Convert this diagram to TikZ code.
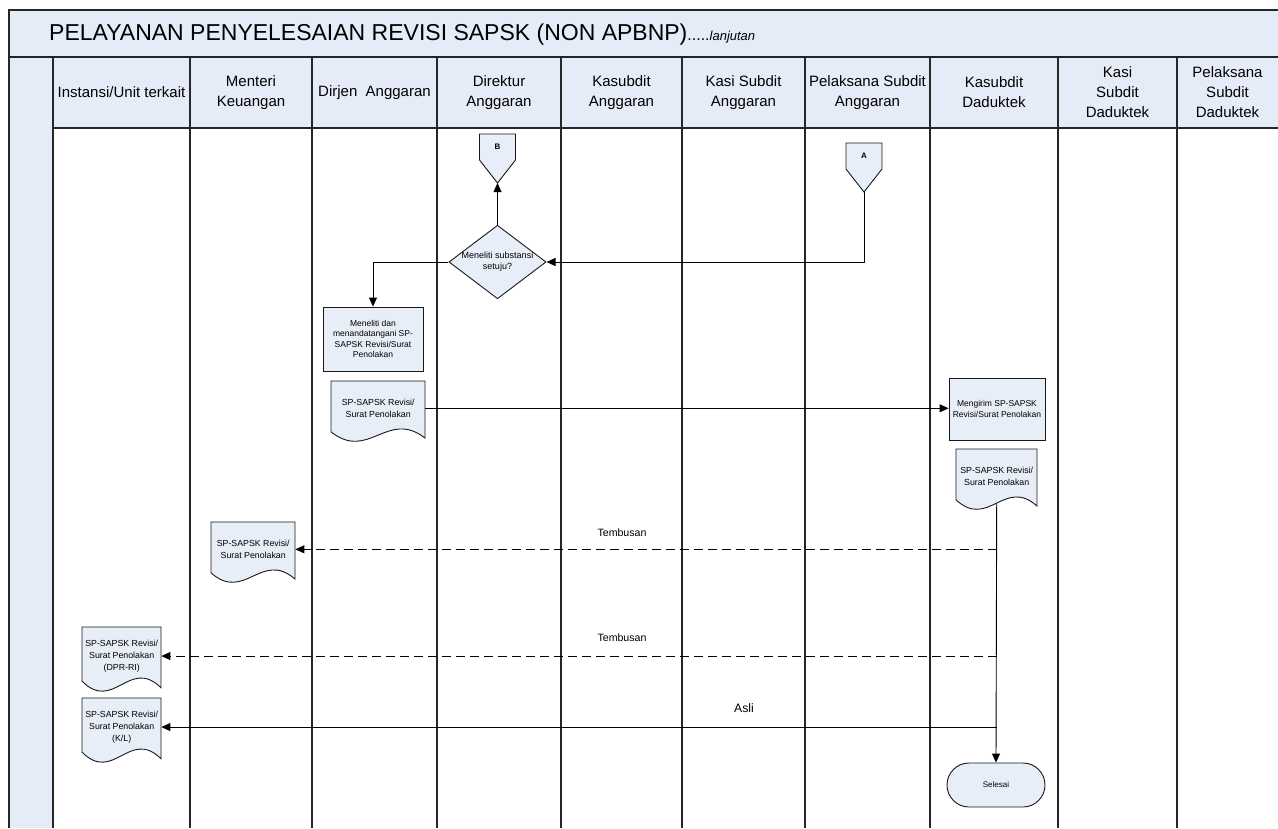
\documentclass[tikz,border=0pt]{standalone}
\usepackage{fontspec}
\setmainfont{Liberation Sans}
\usetikzlibrary{arrows.meta,shapes.geometric,backgrounds}

\definecolor{bandblue}{RGB}{230,236,247}
\definecolor{shapeblue}{RGB}{232,238,248}

\def\laneTop{57}
\def\headBottom{128}
\def\pageBottom{828}

\tikzset{
  frame/.style={line width=1.6pt, draw=black!85},
  lane/.style={line width=1.6pt, draw=black!85},
  shapeline/.style={draw=black!90, line width=0.9pt, fill=shapeblue},
  lanehead/.style={align=center, inner sep=0pt, font=\fontsize{15}{20}\selectfont},
  procbox/.style={shapeline, align=center, inner sep=1pt, font=\fontsize{8.5}{10.5}\selectfont},
  docbox/.style={anchor=north west, align=center, inner sep=0pt, font=\fontsize{8.8}{11.7}\selectfont},
  offbox/.style={minimum width=36pt, minimum height=26pt, inner sep=0pt, font=\fontsize{8}{10}\bfseries\selectfont},
  decision/.style={diamond, shapeline, aspect=1.32, inner sep=0pt, minimum width=90pt, minimum height=68pt, align=center, font=\fontsize{9}{11}\selectfont},
  terminal/.style={shapeline, rounded corners=22pt, minimum width=98pt, minimum height=44pt, font=\fontsize{8}{10}\selectfont},
  flow/.style={line width=0.9pt, -{Triangle[length=9pt,width=8pt]}},
  copyflow/.style={flow, dash pattern=on 9pt off 5pt},
  note/.style={inner sep=0pt, font=\fontsize{10.6}{12}\selectfont}
}

% document symbol: name, left, top, width, height, text
\newcommand{\docnode}[6]{%
  \begin{pgfonlayer}{background}
    \filldraw[shapeline] (#2,#3) -- (#2,{#3+0.82*#5})
      .. controls ({#2+0.4*#4},{#3+1.3*#5}) and ({#2+0.6*#4},{#3+0.45*#5}) .. ({#2+#4},{#3+0.92*#5})
      -- ({#2+#4},#3) -- cycle;
  \end{pgfonlayer}
  \node[docbox, minimum width=#4pt, minimum height={0.874*#5pt}] (#1) at (#2,#3) {#6};
}

% off-page connector: name, centre x, top, letter
\newcommand{\offpage}[4]{%
  \begin{pgfonlayer}{background}
    \filldraw[shapeline] ({#2-18},#3) -- ({#2+18},#3) -- ({#2+18},{#3+26})
      -- (#2,{#3+49}) -- ({#2-18},{#3+26}) -- cycle;
  \end{pgfonlayer}
  \node[offbox] (#1) at (#2,{#3+13}) {#4};
  \coordinate (#1 tip) at (#2,{#3+49});
}

\begin{document}
\begin{tikzpicture}[x=1pt, y=-1pt]
  \useasboundingbox (0,0) rectangle (1278,828);

  \fill[bandblue] (9,10) rectangle (1278,\laneTop);
  \fill[bandblue] (9,\laneTop) rectangle (53,\pageBottom);
  \fill[bandblue] (53,\laneTop) rectangle (1278,\headBottom);

  \foreach \x in {53,190,312,437,561,682,805,930,1058,1177} {
    \draw[lane] (\x,\laneTop) -- (\x,\pageBottom);
  }
  \draw[frame] (1278,10) -- (9,10) -- (9,\pageBottom);
  \draw[frame] (9,\laneTop) -- (1278,\laneTop);
  \draw[frame] (53,\headBottom) -- (1278,\headBottom);

  \node[anchor=base west, inner sep=0pt] (title) at (49,40)
    {{\fontsize{23}{23}\selectfont PELAYANAN PENYELESAIAN REVISI SAPSK (NON APBNP)}{\fontsize{16}{16}\selectfont .....}{\fontsize{13}{13}\selectfont\itshape lanjutan}};

  \foreach \xa/\xb/\lbl [count=\i] in {53/190/{Instansi/Unit terkait}, 190/312/{Menteri\\Keuangan},
      312/437/{Dirjen\ \ Anggaran}, 437/561/{Direktur\\Anggaran}, 561/682/{Kasubdit\\Anggaran},
      682/805/{Kasi Subdit\\Anggaran}, 805/930/{Pelaksana Subdit\\Anggaran}, 930/1058/{Kasubdit\\Daduktek},
      1058/1177/{Kasi\\Subdit\\Daduktek}, 1177/1278/{Pelaksana\\Subdit\\Daduktek}} {
    \node[lanehead] (head\i) at ({(\xa+\xb)/2},92.5) {\lbl};
  }

  \offpage{connB}{497.5}{134}{B}
  \offpage{connA}{864}{143}{A}

  \node[decision] (cekSubstansi) at (497.5,262) {Meneliti substansi\\setuju?};
  \node[procbox, minimum width=100pt, minimum height=64pt] (tandaTangan) at (373,339)
    {Meneliti dan\\menandatangani SP-\\SAPSK Revisi/Surat\\Penolakan};
  \docnode{dirjenDoc}{331}{381}{94}{62}{SP-SAPSK Revisi/\\Surat Penolakan}
  \node[procbox, minimum width=96pt, minimum height=62pt] (kirim) at (997,409)
    {Mengirim SP-SAPSK\\Revisi/Surat Penolakan};
  \docnode{kasubditDoc}{956}{449}{81}{62}{SP-SAPSK Revisi/\\Surat Penolakan}
  \docnode{menkeuDoc}{211}{522}{84}{62}{SP-SAPSK Revisi/\\Surat Penolakan}
  \docnode{dprDoc}{82}{627}{79}{66}{SP-SAPSK Revisi/\\Surat Penolakan\\(DPR-RI)}
  \docnode{klDoc}{82}{698}{79}{66}{SP-SAPSK Revisi/\\Surat Penolakan\\(K/L)}
  \node[terminal] (selesai) at (996,785) {Selesai};

  \draw[flow] (connA tip) |- (cekSubstansi.east);
  \draw[flow] (cekSubstansi.north) -- (connB tip);
  \draw[flow] (cekSubstansi.west) -| (tandaTangan.north);
  \draw[flow] (dirjenDoc.east) -- (dirjenDoc.east -| kirim.west);
  \draw[flow] (kasubditDoc.south) -- (selesai.north);
  \draw[copyflow] (kasubditDoc.south |- menkeuDoc.east) -- (menkeuDoc.east);
  \draw[copyflow] (kasubditDoc.south |- dprDoc.east) -- (dprDoc.east);
  \draw[flow] (kasubditDoc.south |- klDoc.east) -- (klDoc.east);

  \node[note] (tembusanMenkeu) at (622,533) {Tembusan};
  \node[note] (tembusanDpr) at (622,638) {Tembusan};
  \node[note, font=\fontsize{12.2}{14}\selectfont] (asli) at (744,708) {Asli};
\end{tikzpicture}
\end{document}
